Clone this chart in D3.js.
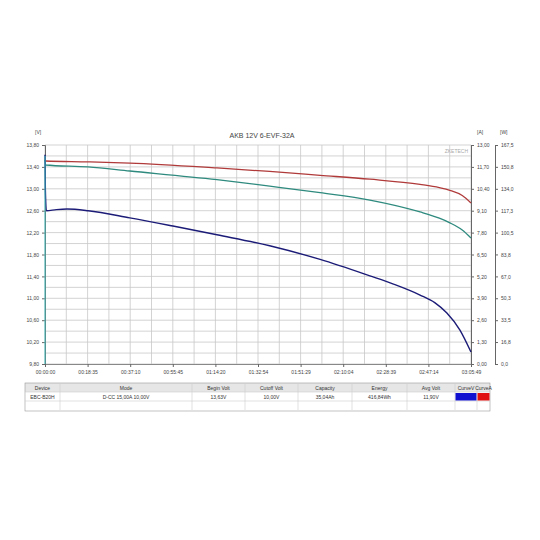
<!DOCTYPE html><html><head><meta charset="utf-8"><script src="https://cdn.jsdelivr.net/npm/d3@7"></script>
<style>body{margin:0;background:#fff}text{font-family:Arial,"Liberation Sans",sans-serif}</style></head><body>
<svg id="c" width="540" height="540"></svg>
<script>
const title="AKB 12V 6-EVF-32A";
const timeTicks=["00:00:00","00:18:35","00:37:10","00:55:45","01:14:20","01:32:54","01:51:29","02:10:04","02:28:39","02:47:14","03:05:49"];
const totalMin=185.82;
const voltT=[0,0.15,0.6,5,9.6,18.8,37,55.8,75,98,120,141.7,152,163.6,170,175.3,181,185.8];
const voltV=[13.62,13.0,12.60,12.62,12.63,12.60,12.47,12.32,12.16,11.96,11.71,11.41,11.26,11.06,10.92,10.73,10.42,10.02];
const ampT=[0,0.3,18.8,37,75,98,120,141.7,163.6,172,176.6,182,185.8];
const ampA=[12.1,12.05,12.0,11.93,11.64,11.43,11.2,10.97,10.66,10.47,10.31,10.0,9.56];
const powT=[0,0.3,18.8,37,75,98,120,141.7,163.6,172,176.6,182,185.8];
const powW=[156,152.2,150.7,147.6,141,136,131,125.4,116.3,111.5,108,102.5,96.4];
const vTicks=d3.range(11).map(i=>9.8+0.4*i);
const aTicks=d3.range(11).map(i=>1.3*i);
const wTicks=[0,16.8,33.5,50.3,67.0,83.8,100.5,117.3,134.0,150.8,167.5];
const headers=["Device","Mode","Begin Volt","Cutoff Volt","Capacity","Energy","Avg Volt","CurveV","CurveA"];
const row=["EBC-B20H","D-CC 15,00A 10,00V","13,63V","10,00V","35,04Ah","416,84Wh","11,90V","",""];
const fmt=v=>d3.format(".2f")(v).replace(".",",");
const fmt1=v=>d3.format(".1f")(v).replace(".",",");
const svg=d3.select("#c");
const L=45,R=471,T=145,B=364;
const x=d3.scaleLinear().domain([0,totalMin]).range([L,R]);
const yV=d3.scaleLinear().domain([9.8,13.8]).range([B,T]);
const yA=d3.scaleLinear().domain([0,13]).range([B,T]);
const yW=d3.scaleLinear().domain([0,167.5]).range([B,T]);
const g=svg.append("g");
for(let i=0;i<=20;i++){const xx=L+(R-L)*i/20;g.append("line").attr("x1",xx).attr("x2",xx).attr("y1",T).attr("y2",B).attr("stroke","#c8c8c8").attr("stroke-width",0.8);
const yy=T+(B-T)*i/20;g.append("line").attr("x1",L).attr("x2",R).attr("y1",yy).attr("y2",yy).attr("stroke","#c8c8c8").attr("stroke-width",0.8);}
const fs=5;
const ax=d3.axisBottom(x).tickValues(d3.range(11).map(i=>totalMin*i/10)).tickFormat((d,i)=>timeTicks[i]).tickSize(3);
const gx=svg.append("g").attr("transform",`translate(0,${B})`).call(ax);
const gl=svg.append("g").attr("transform",`translate(${L},0)`).call(d3.axisLeft(yV).tickValues(vTicks).tickFormat(fmt).tickSize(3));
const gr=svg.append("g").attr("transform",`translate(${R},0)`).call(d3.axisRight(yA).tickValues(aTicks).tickFormat(fmt).tickSize(3));
const gw=svg.append("g").attr("transform",`translate(495,0)`).call(d3.axisRight(yW).tickValues(wTicks).tickFormat(fmt1).tickSize(3));
[gx,gl,gr,gw].forEach(a=>{a.selectAll("text").attr("font-size",fs).attr("fill","#444");a.selectAll("path,line").attr("stroke","#666");});
gx.select(".domain").attr("stroke","#888");
svg.append("text").attr("x",35).attr("y",134).attr("font-size",5).attr("fill","#444").text("[V]");
svg.append("text").attr("x",477).attr("y",134).attr("font-size",5).attr("fill","#444").text("[A]");
svg.append("text").attr("x",500).attr("y",134).attr("font-size",5).attr("fill","#444").text("[W]");
svg.append("text").attr("x",262).attr("y",138).attr("font-size",7).attr("text-anchor","middle").attr("fill","#444").text(title);
svg.append("text").attr("x",468).attr("y",153).attr("font-size",5).attr("text-anchor","end").attr("fill","#aaa").text("ZKETECH");
const line=(ts,vs,ys)=>d3.line().x((d,i)=>x(ts[i])).y((d,i)=>ys(vs[i])).curve(d3.curveMonotoneX)(vs);
svg.append("path").attr("d",line(ampT,ampA,yA)).attr("fill","none").attr("stroke","#b03a3a").attr("stroke-width",1.3);
svg.append("path").attr("d",line(powT,powW,yW)).attr("fill","none").attr("stroke","#2e8a7e").attr("stroke-width",1.3);
svg.append("path").attr("d",line(voltT,voltV,yV)).attr("fill","none").attr("stroke","#1c1c78").attr("stroke-width",1.4);
svg.append("line").attr("x1",L).attr("x2",L).attr("y1",yV(13.6)).attr("y2",B).attr("stroke","#40c0c0").attr("stroke-width",1);
const tb=svg.append("g");
tb.append("rect").attr("x",25).attr("y",383).attr("width",465).attr("height",9).attr("fill","#e6e6e6");
tb.append("rect").attr("x",25).attr("y",383).attr("width",465).attr("height",28).attr("fill","none").attr("stroke","#999").attr("stroke-width",0.6);
[392,401].forEach(yy=>tb.append("line").attr("x1",25).attr("x2",490).attr("y1",yy).attr("y2",yy).attr("stroke","#ccc").attr("stroke-width",0.6));
const c2=[25,60,192,245,298,352,407,455,477,490];
for(let i=1;i<c2.length-1;i++)tb.append("line").attr("x1",c2[i]).attr("x2",c2[i]).attr("y1",383).attr("y2",410).attr("stroke","#ccc").attr("stroke-width",0.6);
tb.append("rect").attr("x",455.5).attr("y",393).attr("width",21).attr("height",7.5).attr("fill","#1010d0");
tb.append("rect").attr("x",477.5).attr("y",393).attr("width",12).attr("height",7.5).attr("fill","#e01010");
headers.forEach((h,i)=>{const cx=(c2[i]+c2[i+1])/2;
tb.append("text").attr("x",cx).attr("y",390).attr("font-size",5).attr("text-anchor","middle").attr("fill","#333").text(h);
tb.append("text").attr("x",cx).attr("y",399).attr("font-size",5).attr("text-anchor","middle").attr("fill","#333").text(row[i]);});
</script></body></html>
